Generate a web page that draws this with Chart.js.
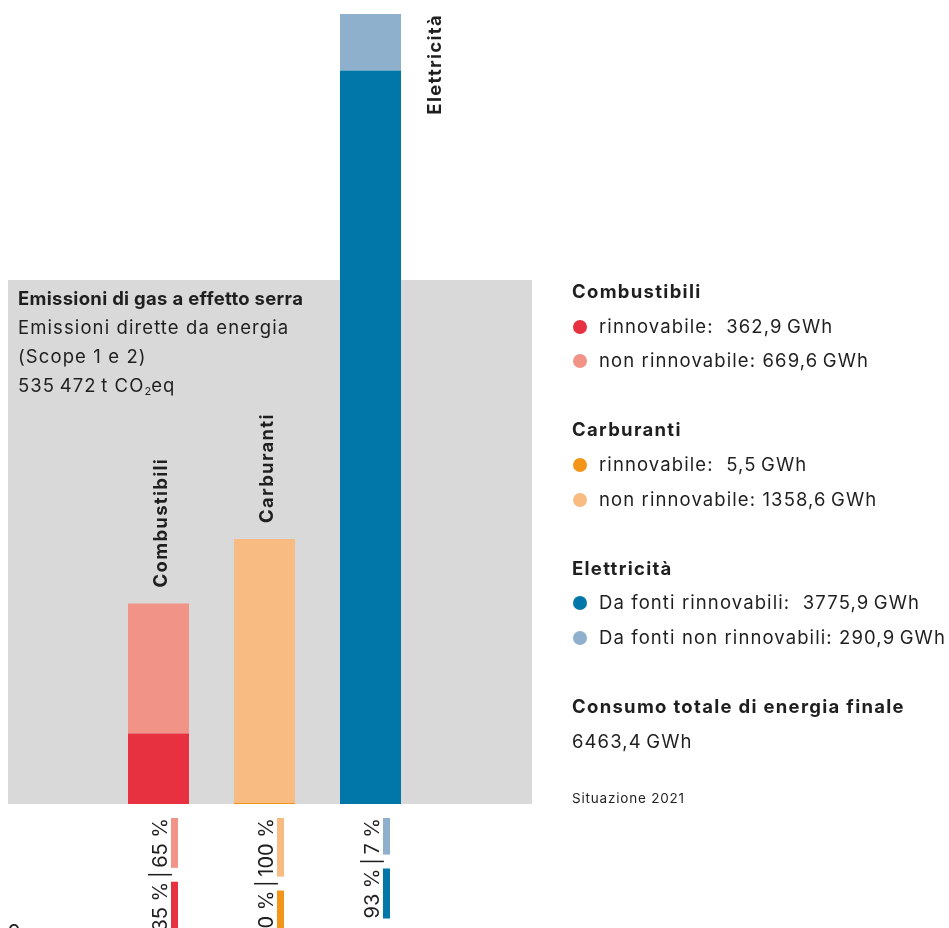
<!DOCTYPE html>
<html>
<head>
<meta charset="utf-8">
<script src="https://cdn.jsdelivr.net/npm/chart.js@4/dist/chart.umd.min.js"></script>
<style>
    body { margin: 0; background: #fff; }
    #wrap { position: relative; width: 949px; height: 928px; overflow: hidden; font-family: Inter, sans-serif; color: #1f1f1f; }
    canvas { position: absolute; left: 0; top: 0; }
    #box { position: absolute; left: 18px; top: 284px; font-size: 18.5px; line-height: 29px; letter-spacing: 1.1px; white-space: nowrap; }
    #box b { letter-spacing: 0.3px; }
    #box sub { font-size: 11px; vertical-align: -3px; line-height: 0; letter-spacing: 0; }
    #legend { position: absolute; left: 572px; top: 274px; font-size: 18.5px; line-height: 34.6px; letter-spacing: 1.1px; white-space: nowrap; }
    #legend .dot { display: inline-block; width: 14px; height: 14px; border-radius: 50%; margin: 0 12px 0 1px; vertical-align: -1px; }
    #legend b { font-weight: 700; letter-spacing: 1.3px; }
    #year { position: absolute; left: 572px; top: 789px; font-size: 13.5px; line-height: 18px; letter-spacing: 0.8px; }
</style>
</head>
<body>
<div id="wrap">
    <canvas id="chartEnergy" width="949" height="928"></canvas>
    <div id="box">
        <div><b>Emissioni di gas a effetto serra</b></div>
        <div>Emissioni dirette da energia</div>
        <div>(Scope 1 e 2)</div>
        <div>535&#8201;472&#8201;t CO<sub>2</sub>eq</div>
    </div>
    <div id="legend"></div>
    <div id="year">Situazione 2021</div>
</div>
<script>
// valori in GWh
const categories        = ['Combustibili', 'Carburanti', 'Elettricità'];
const renewable         = [362.9, 5.5, 3775.9];
const nonRenewable      = [669.6, 1358.6, 290.9];
const renewableLabels   = ['rinnovabile:', 'rinnovabile:', 'Da fonti rinnovabili:'];
const nonRenewableLabels = ['non rinnovabile:', 'non rinnovabile:', 'Da fonti non rinnovabili:'];
const renewableColors   = ['#e73141', '#f39518', '#0077a8'];
const nonRenewableColors = ['#f29388', '#f8bb82', '#8fb0cd'];

const totals = categories.map((c, i) => renewable[i] + nonRenewable[i]);
const grandTotal = totals.reduce((a, b) => a + b, 0);
const fmt = v => v.toFixed(1).replace('.', ',') + '\u2009GWh';

// legenda a destra
let html = '';
categories.forEach((name, i) => {
    html += '<div><b>' + name + '</b></div>';
    html += '<div><span class="dot" style="background:' + renewableColors[i] + '"></span>' + renewableLabels[i] + '&nbsp; ' + fmt(renewable[i]) + '</div>';
    html += '<div><span class="dot" style="background:' + nonRenewableColors[i] + '"></span>' + nonRenewableLabels[i] + ' ' + fmt(nonRenewable[i]) + '</div>';
    html += '<div>&nbsp;</div>';
});
html += '<div><b>Consumo totale di energia finale</b></div>';
html += '<div>' + fmt(grandTotal) + '</div>';
document.getElementById('legend').innerHTML = html;

const decorations = {
    id: 'decorations',
    beforeDatasetsDraw(chart) {
        const ctx = chart.ctx;
        ctx.save();
        ctx.fillStyle = '#d9d9d9';
        ctx.fillRect(8, 280, 524, chart.chartArea.bottom - 280);
        ctx.restore();
    },
    afterDatasetsDraw(chart) {
        const ctx = chart.ctx;
        const meta = chart.getDatasetMeta(1);
        const top = chart.chartArea.bottom + 14;

        categories.forEach((name, i) => {
            const bar = meta.data[i];

            // nome categoria ruotato
            ctx.save();
            ctx.font = 'bold 18.5px Inter';
            ctx.letterSpacing = '1.3px';
            ctx.fillStyle = '#1f1f1f';
            const w = ctx.measureText(name).width;
            if (bar.y - 16 - w > 0) {
                ctx.translate(bar.x + 8, bar.y - 16);
                ctx.rotate(-Math.PI / 2);
                ctx.textAlign = 'left';
            } else {
                ctx.translate(bar.x + bar.width / 2 + 40, bar.y);
                ctx.rotate(-Math.PI / 2);
                ctx.textAlign = 'right';
            }
            ctx.fillText(name, 0, 0);
            ctx.restore();

            // percentuali sotto le barre
            const pr = Math.round(renewable[i] / totals[i] * 100) + ' %';
            const pn = Math.round(nonRenewable[i] / totals[i] * 100) + ' %';
            const sep = '\u2009|\u2009';
            ctx.save();
            ctx.font = '20px Inter';
            ctx.fillStyle = '#1f1f1f';
            const wn = ctx.measureText(pn).width;
            const ws = ctx.measureText(sep).width;
            const wr = ctx.measureText(pr).width;
            ctx.translate(bar.x + 8.5, top);
            ctx.rotate(-Math.PI / 2);
            ctx.textAlign = 'right';
            ctx.fillText(pr + sep + pn, 0, 0);
            ctx.fillStyle = nonRenewableColors[i];
            ctx.fillRect(-wn, 4, wn, 7);
            ctx.fillStyle = renewableColors[i];
            ctx.fillRect(-wn - ws - wr, 4, wr, 7);
            ctx.restore();
        });

        // numero di pagina
        ctx.save();
        ctx.font = '20px Inter';
        ctx.fillStyle = '#1f1f1f';
        ctx.fillText('9', 8, 939);
        ctx.restore();
    }
};

new Chart(document.getElementById('chartEnergy'), {
    type: 'bar',
    data: {
        labels  : categories,
        datasets: [{
            label          : 'rinnovabile',
            data           : renewable,
            backgroundColor: renewableColors,
            borderWidth    : 0
        }, {
            label          : 'non rinnovabile',
            data           : nonRenewable,
            backgroundColor: nonRenewableColors,
            borderWidth    : 0
        }]
    },
    options: {
        responsive: false,
        animation : false,
        barPercentage     : 0.5755,
        categoryPercentage: 1,
        layout: { padding: { left: 105.5, right: 525.5, top: 14, bottom: 124 } },
        plugins: { legend: { display: false }, tooltip: { enabled: false } },
        scales: {
            x: { display: false, stacked: true },
            y: { display: false, stacked: true, min: 0, max: Math.max(...totals) }
        }
    },
    plugins: [decorations]
});
</script>
</body>
</html>
